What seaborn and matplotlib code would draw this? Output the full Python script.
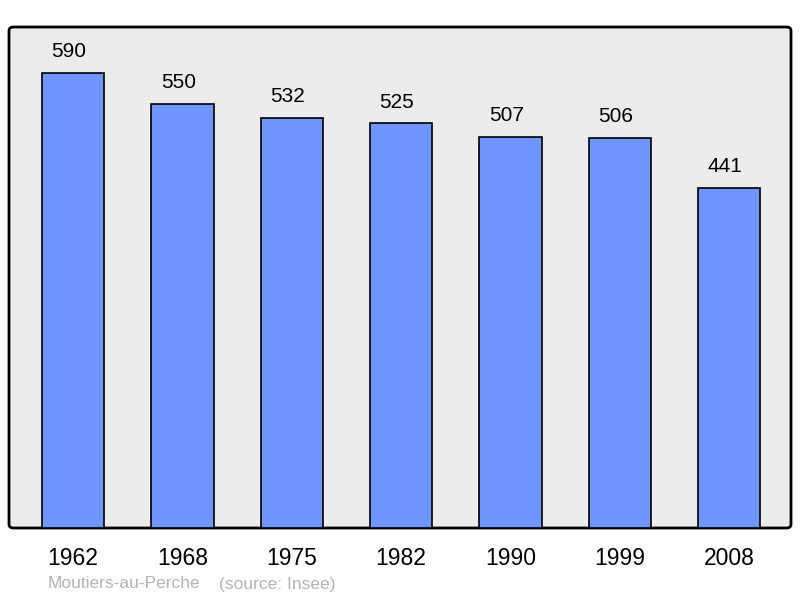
import matplotlib
matplotlib.use('Agg')
import matplotlib.pyplot as plt
import seaborn as sns
import pandas as pd
from matplotlib.patches import FancyBboxPatch

# Population data
years = ['1962', '1968', '1975', '1982', '1990', '1999', '2008']
population = [590, 550, 532, 525, 507, 506, 441]
commune = 'Moutiers-au-Perche'
source = '(source: Insee)'

df = pd.DataFrame({'year': years, 'population': population})

sns.set_style('white')
plt.rcParams['font.family'] = ['Liberation Sans', 'DejaVu Sans']
plt.rcParams['text.color'] = 'black'
plt.rcParams['xtick.color'] = 'black'

fig = plt.figure(figsize=(8, 5.98), dpi=100)
ax = fig.add_axes([9 / 800, 70 / 598, 782 / 800, 501 / 598])
ax.set_facecolor('none')
ax.set_zorder(2)

# Rounded grey frame behind the bars
frame = FancyBboxPatch((9 / 800, 70 / 598), 782 / 800, 501 / 598,
                       boxstyle='round,pad=0,rounding_size=0.006',
                       transform=fig.transFigure, facecolor='#ececec',
                       edgecolor='black', linewidth=2, zorder=-1)
fig.patches.append(frame)

sns.barplot(x='year', y='population', data=df, ax=ax, color='#7095ff',
            saturation=1, width=0.57, edgecolor='black', linewidth=1.2)

# Value labels above each bar (slightly left of centre, as in the original)
for i, v in enumerate(population):
    ax.annotate(str(v), (i, v), xytext=(-3, 8.5), textcoords='offset points',
                ha='center', va='bottom', fontsize=15)

ax.set_xlim(-0.585, 6.565)
ax.set_ylim(0, 650)
ax.set_xlabel('')
ax.set_ylabel('')
ax.set_yticks([])
ax.tick_params(axis='x', length=0, labelsize=16.5, pad=13.5, labelcolor='black')
for s in ax.spines.values():
    s.set_visible(False)

fig.text(48 / 800, 1 - 584 / 598, commune, fontsize=12.5, color='#b4b4b4', va='center')
fig.text(219 / 800, 1 - 584 / 598, source, fontsize=12.5, color='#b4b4b4', va='center')

fig.savefig('out.png', dpi=100)
